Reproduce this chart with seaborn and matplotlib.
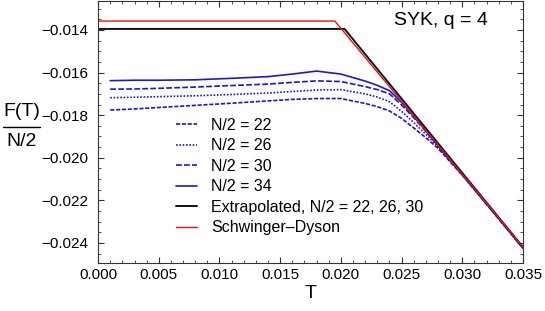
import numpy as np
import pandas as pd
from matplotlib import pyplot as plt
from matplotlib.lines import Line2D
from matplotlib.ticker import MultipleLocator, FuncFormatter
import seaborn as sns

# temperatures of the finite-N curves
T_n = [0.001, 0.003, 0.005, 0.008, 0.011, 0.014, 0.016, 0.018, 0.020, 0.022,
       0.023, 0.024, 0.025, 0.026, 0.027, 0.028, 0.030, 0.032, 0.035]

F_22 = [-0.01776, -0.01771, -0.01764, -0.01754, -0.01744, -0.01733, -0.01726, -0.01722,
        -0.01722, -0.01745, -0.01760, -0.01780, -0.01815, -0.01860, -0.01906, -0.01956,
        -0.02082, -0.02219, -0.02425]
F_26 = [-0.01718, -0.01716, -0.01713, -0.01709, -0.01703, -0.01696, -0.01689, -0.01682,
        -0.01680, -0.01700, -0.01715, -0.01737, -0.01782, -0.01835, -0.01890, -0.01948,
        -0.02081, -0.02218, -0.02425]
F_30 = [-0.01678, -0.01677, -0.01674, -0.01668, -0.01661, -0.01654, -0.01646, -0.01639,
        -0.01642, -0.01666, -0.01680, -0.01700, -0.01752, -0.01812, -0.01876, -0.01945,
        -0.02080, -0.02217, -0.02424]
F_34 = [-0.01638, -0.01636, -0.01636, -0.01634, -0.01627, -0.01619, -0.01607, -0.01593,
        -0.01607, -0.01640, -0.01660, -0.01685, -0.01740, -0.01806, -0.01874, -0.01943,
        -0.02079, -0.02216, -0.02423]

# extrapolation and Schwinger-Dyson result
T_ex = [0.0, 0.0203, 0.035]
F_ex = [-0.01395, -0.01395, -0.0242]
T_sd = [0.0, 0.0195, 0.035]
F_sd = [-0.01358, -0.01358, -0.0242]

sizes = ["22", "26", "30", "34"]
curves = [F_22, F_26, F_30, F_34]
styles = [(0, (2.5, 1.0)), (0, (1.0, 1.0)), (0, (3.5, 1.3)), "-"]

sns.set_theme(style="ticks")
plt.rcParams["font.family"] = ["Liberation Sans", "DejaVu Sans"]
plt.rcParams["text.color"] = "black"
plt.rcParams["axes.labelcolor"] = "black"
plt.rcParams["xtick.color"] = "black"
plt.rcParams["ytick.color"] = "black"

fig = plt.figure(figsize=(5.45, 3.11), dpi=100)
ax = fig.add_axes([0.18, 0.154, 0.7796, 0.844])

blue = "#1a1ac8"
for n, F, ls in zip(sizes, curves, styles):
    sns.lineplot(x=T_n, y=F, ax=ax, color=blue, lw=1.2, linestyle=ls,
                 label="N/2 = " + n)
sns.lineplot(x=T_ex, y=F_ex, ax=ax, color="#111111", lw=1.4,
             label="Extrapolated, N/2 = 22, 26, 30")
sns.lineplot(x=T_sd, y=F_sd, ax=ax, color="#ee1111", lw=1.0,
             label="Schwinger\u2013Dyson")

ax.set_xlim(0, 0.035)
ax.set_ylim(-0.02495, -0.01262)
ax.xaxis.set_major_locator(MultipleLocator(0.005))
ax.xaxis.set_minor_locator(MultipleLocator(0.001))
ax.yaxis.set_major_locator(MultipleLocator(0.002))
ax.yaxis.set_minor_locator(MultipleLocator(0.0005))
fmt = FuncFormatter(lambda v, p: ("%.3f" % v).replace("-", "\u2212"))
ax.xaxis.set_major_formatter(fmt)
ax.yaxis.set_major_formatter(fmt)
ax.tick_params(which="both", direction="in", top=True, right=True, color="#333333")
ax.tick_params(which="major", length=4, width=0.8, labelsize=11)
ax.tick_params(which="minor", length=2, width=0.6)
ax.tick_params(axis="x", pad=3.6)
ax.tick_params(axis="y", pad=7)
for s in ax.spines.values():
    s.set_linewidth(0.8)
    s.set_color("#333333")

ax.set_xlabel("T", fontsize=14, labelpad=2)
ax.set_ylabel("")

# fraction label on the left
fig.text(21.5 / 545, 1 - 112 / 311, "F(T)", fontsize=14, ha="center", va="center")
fig.text(21.5 / 545, 1 - 142 / 311, "N/2", fontsize=14, ha="center", va="center")
fig.add_artist(Line2D([3 / 545, 40 / 545], [1 - 127 / 311, 1 - 127 / 311],
                      color="black", lw=1.0, transform=fig.transFigure))

ax.text(0.697, 0.925, "SYK, q = 4", transform=ax.transAxes, fontsize=14,
        ha="left", va="center")

ax.legend(loc="upper left", bbox_to_anchor=(176 / 545, 1 - 118 / 311),
          bbox_transform=fig.transFigure, frameon=False, fontsize=11.5,
          borderpad=0, borderaxespad=0, handlelength=1.3, handletextpad=0.9,
          labelspacing=0.34)

fig.savefig("out.png", dpi=100)
